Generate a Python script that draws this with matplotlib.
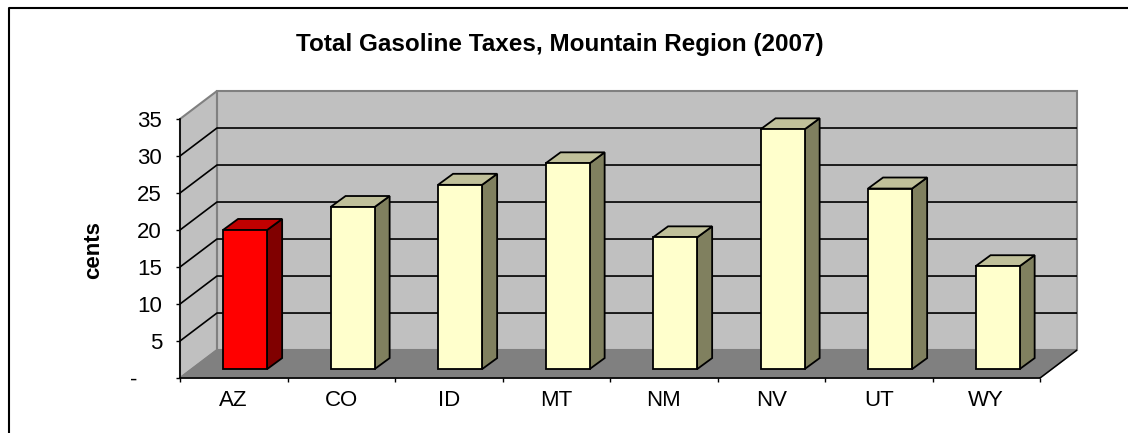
import matplotlib
matplotlib.use('Agg')
import matplotlib.pyplot as plt
from matplotlib.lines import Line2D
from matplotlib.patches import Polygon

plt.rcParams['font.family'] = ['Liberation Sans', 'DejaVu Sans']

states = ['AZ', 'CO', 'ID', 'MT', 'NM', 'NV', 'UT', 'WY']
taxes = [18.8, 21.9, 24.9, 27.8, 17.8, 32.4, 24.4, 13.9]
yticks = [0, 5, 10, 15, 20, 25, 30, 35]
ylabels = ['-    ', '5', '10', '15', '20', '25', '30', '35']

W, H = 1128, 433
# depth of the 3D box, in data units
wall_dx, wall_dy = 0.344, 3.78
# bars sit a bit inside the floor
off_x, off_y = 0.105, 1.2
bar_w = 0.41
bar_dx, bar_dy = 0.14, 1.49

fig = plt.figure(figsize=(W / 100, H / 100), dpi=100)
# chart frame, only top and left edges are inside the picture
fig.add_artist(Line2D([8.5 / W, 8.5 / W, 1], [0, 1 - 8 / H, 1 - 8 / H], color='black', lw=1.5))

ax = fig.add_axes([180 / W, 1 - 378 / H, 897 / W, 287 / H])
ax.set_xlim(0, 8 + wall_dx)
ax.set_ylim(0, 35 + wall_dy)
ax.patch.set_visible(False)

# walls and floor
ax.add_patch(Polygon([(wall_dx, wall_dy), (8 + wall_dx, wall_dy), (8 + wall_dx, 35 + wall_dy), (wall_dx, 35 + wall_dy)],
                     fc='#C0C0C0', ec='#808080', lw=1.5, zorder=1, clip_on=False))
ax.add_patch(Polygon([(0, 0), (wall_dx, wall_dy), (wall_dx, 35 + wall_dy), (0, 35)],
                     fc='#C0C0C0', ec='#808080', lw=1.5, zorder=1, clip_on=False))
ax.add_patch(Polygon([(0, 0), (8, 0), (8 + wall_dx, wall_dy), (wall_dx, wall_dy)],
                     fc='#808080', ec='#808080', lw=1, zorder=1.5, clip_on=False))
# front edge of the floor on the right
ax.plot([8, 8 + wall_dx], [0, wall_dy], color='black', lw=1.1, zorder=2)

# gridlines run across the side wall and the back wall
for v in yticks[1:-1]:
    ax.plot([0, wall_dx, 8 + wall_dx], [v, v + wall_dy, v + wall_dy], color='black', lw=1.2, zorder=2)

# bars
for i, v in enumerate(taxes):
    left = i + 0.5 + off_x - bar_w / 2
    right = left + bar_w
    top = off_y + v
    if states[i] == 'AZ':
        front, roof, side = '#FF0000', '#C00000', '#800000'
    else:
        front, roof, side = '#FFFFCC', '#C0C09A', '#80805F'
    ax.bar(i + 0.5 + off_x, v, bar_w, bottom=off_y, color=front, edgecolor='black', lw=1.3, zorder=4)
    ax.add_patch(Polygon([(right, off_y), (right + bar_dx, off_y + bar_dy), (right + bar_dx, top + bar_dy), (right, top)],
                         fc=side, ec='black', lw=1.3, zorder=3))
    ax.add_patch(Polygon([(left, top), (left + bar_dx, top + bar_dy), (right + bar_dx, top + bar_dy), (right, top)],
                         fc=roof, ec='black', lw=1.3, zorder=3))

for s in ['top', 'right']:
    ax.spines[s].set_visible(False)
ax.spines['left'].set_bounds(0, 35)
ax.spines['bottom'].set_bounds(0, 8)
ax.spines['left'].set_linewidth(1.2)
ax.spines['bottom'].set_linewidth(1.2)
ax.spines['left'].set_zorder(5)
ax.spines['bottom'].set_zorder(5)

ax.set_yticks(yticks)
ax.set_yticklabels(ylabels, fontsize=16)
ax.set_xticks([i + 0.5 for i in range(8)])
ax.set_xticklabels(states, fontsize=16)
ax.set_xticks(range(9), minor=True)
ax.tick_params(axis='x', which='major', length=0, pad=9)
ax.tick_params(axis='x', which='minor', length=3, width=1)
ax.tick_params(axis='y', length=3, width=1, pad=10)

fig.text(94 / W, 1 - 250 / H, 'cents', rotation=90, fontsize=16, fontweight='bold', ha='center', va='center')
fig.text(560 / W, 1 - 44.5 / H, 'Total Gasoline Taxes, Mountain Region (2007)', fontsize=17.5, fontweight='bold',
         ha='center', va='center')

plt.savefig('out.png', dpi=100)
